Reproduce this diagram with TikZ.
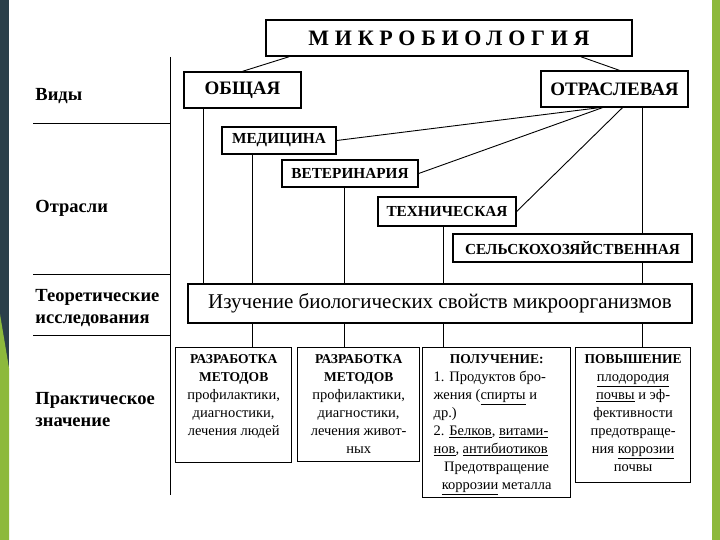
\documentclass[tikz,border=0pt]{standalone}
\usepackage{fontspec}
\setmainfont{Liberation Serif}
\definecolor{slate}{HTML}{2B3F4A}
\definecolor{leaf}{HTML}{8DB93C}

\begin{document}
\begin{tikzpicture}[x=1pt,y=-1pt,line width=0.9pt,
  every node/.style={inner sep=0pt},
  kind/.style={draw,line width=1.3pt,font=\fontsize{19}{20}\bfseries\selectfont},
  branch/.style={draw,line width=1.3pt,font=\fontsize{15.3}{16}\bfseries\selectfont},
  usebox/.style={draw,line width=1.3pt,anchor=north west,inner sep=3pt,font=\fontsize{14.5}{18}\selectfont},
  rowlabel/.style={anchor=west,align=left,font=\fontsize{18.5}{22}\bfseries\selectfont}]
\useasboundingbox (0,0) rectangle (720,540);
\fill[white] (0,0) rectangle (720,540);
\fill[slate] (0,0) rectangle (9,540);
\fill[leaf] (0,314) -- (9,368) -- (9,540) -- (0,540) -- cycle;
\fill[leaf] (712,0) rectangle (720,540);

% row labels and grid
\node at (35,96) (kinds)[rowlabel]{Виды};
\node at (35,208) (fields)[rowlabel]{Отрасли};
\node at (35,308) (theory)[rowlabel]{Теоретические\\исследования};
\node at (35,410) (practice)[rowlabel]{Практическое\\значение};
\draw (170,57) -- (170,495);
\draw (33,123) -- (170,123);
\draw (33,274) -- (170,274);
\draw (33,335) -- (170,335);

% boxes
\node at (449,38) (title)[draw,line width=1.3pt,minimum width=366pt,minimum height=36pt,
  font=\fontsize{22}{24}\bfseries\selectfont\addfontfeature{LetterSpace=26}]{МИКРОБИОЛОГИЯ};
\node at (242.5,90) (general)[kind,minimum width=117pt,minimum height=36pt]{ОБЩАЯ};
\node at (614.5,89) (sector)[kind,minimum width=147pt,minimum height=36pt]{ОТРАСЛЕВАЯ};
\node at (279,140.5) (med)[branch,minimum width=114pt,minimum height=27pt]{МЕДИЦИНА};
\node at (350,173.5) (vet)[branch,minimum width=136pt,minimum height=27pt]{ВЕТЕРИНАРИЯ};
\node at (447,211.5) (tech)[branch,minimum width=138pt,minimum height=29pt]{ТЕХНИЧЕСКАЯ};
\node at (572.5,248) (agri)[branch,minimum width=239pt,minimum height=28pt]{СЕЛЬСКОХОЗЯЙСТВЕННАЯ};
\node at (440,303.5) (study)[draw,line width=1.3pt,minimum width=504pt,minimum height=39pt,
  font=\fontsize{21}{22}\selectfont]{Изучение биологических свойств микроорганизмов};

\node at (175,347) (b1)[usebox]{\parbox[c][109pt][t]{110pt}{\vspace*{4pt}\centering
  {\bfseries\fontsize{13.5}{18}\selectfont РАЗРАБОТКА\\МЕТОДОВ\\}
  профилактики,\\диагностики,\\лечения людей}};
\node at (297,347) (b2)[usebox]{\parbox[c][108pt][t]{116pt}{\vspace*{4pt}\centering
  {\bfseries\fontsize{13.5}{18}\selectfont РАЗРАБОТКА\\МЕТОДОВ\\}
  профилактики,\\диагностики,\\лечения живот-\\ных}};
\node at (422,347) (b3)[usebox]{\parbox[c][144pt][t]{142pt}{\vspace*{4pt}
  {\centering\bfseries\fontsize{13.5}{18}\selectfont ПОЛУЧЕНИЕ:\par}
  {\raggedright\leftskip=8pt 1. Продуктов бро-\\жения (\underline{спирты} и\\др.)\\
  2. \underline{Белков}, \underline{витами-}\\\underline{нов}, \underline{антибиотиков}\par}
  {\centering Предотвращение\\\underline{коррозии} металла\par}}};
\node at (575,347) (b4)[usebox]{\parbox[c][129pt][t]{109pt}{\vspace*{4pt}\centering
  {\bfseries\fontsize{13.5}{18}\selectfont ПОВЫШЕНИЕ\\}
  \underline{плодородия}\\\underline{почвы} и эф-\\фективности\\предотвраще-\\ния \underline{коррозии}\\почвы}};

% connectors
\draw ([xshift=24pt]title.south west) -- (general.north);
\draw ([xshift=-52pt]title.south east) -- ([xshift=5pt]sector.north);
\draw (med.east) -- ([xshift=-15pt]sector.south);
\draw (vet.east) -- ([xshift=-12pt]sector.south);
\draw (tech.east) -- ([xshift=8pt]sector.south);
\draw ([xshift=28pt]sector.south) -- ([xshift=28pt]sector.south |- agri.north);
\draw ([xshift=28pt]sector.south |- agri.south) -- ([xshift=28pt]sector.south |- study.north);
\draw ([xshift=-39pt]general.south) -- ([xshift=-39pt]general.south |- study.north);
\draw ([xshift=-27pt]med.south) -- ([xshift=-27pt]med.south |- study.north);
\draw ([xshift=-6pt]vet.south) -- ([xshift=-6pt]vet.south |- study.north);
\draw ([xshift=-4pt]tech.south) -- ([xshift=-4pt]tech.south |- study.north);
\draw ([xshift=-27pt]med.south |- study.south) -- ([xshift=-27pt]med.south |- b1.north);
\draw ([xshift=-6pt]vet.south |- study.south) -- ([xshift=-6pt]vet.south |- b2.north);
\draw ([xshift=-4pt]tech.south |- study.south) -- ([xshift=-4pt]tech.south |- b3.north);
\draw ([xshift=28pt]sector.south |- study.south) -- ([xshift=28pt]sector.south |- b4.north);
\end{tikzpicture}
\end{document}
